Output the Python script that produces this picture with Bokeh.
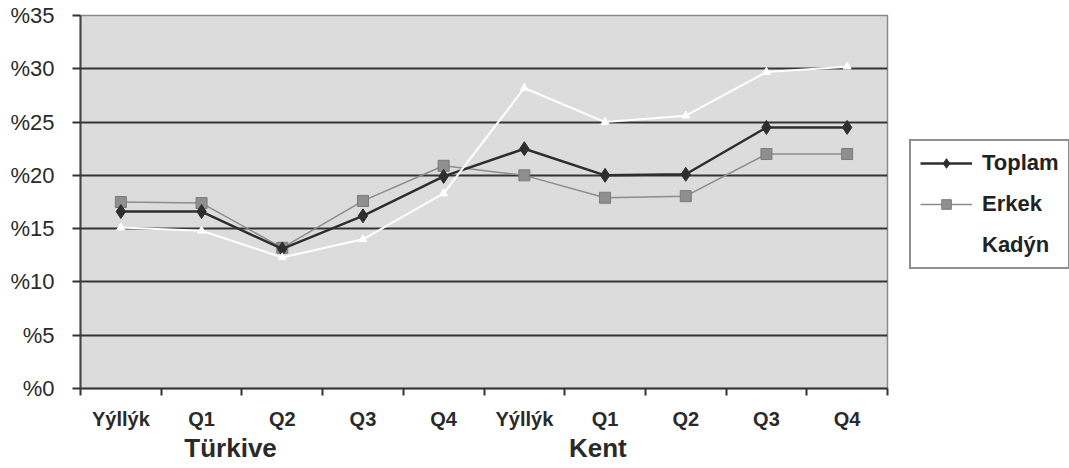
from bokeh.plotting import figure
from bokeh.models import Range1d, FixedTicker, Legend, LegendItem, LinearAxis
from bokeh.layouts import row
from bokeh.embed import file_html
from bokeh.resources import INLINE

# ---- data ----
categories = ["Yýllýk", "Q1", "Q2", "Q3", "Q4", "Yýllýk", "Q1", "Q2", "Q3", "Q4"]
groups = ["Türkive", "Kent"]
toplam = [16.6, 16.6, 13.1, 16.2, 19.9, 22.5, 20.0, 20.1, 24.5, 24.5]
erkek = [17.5, 17.4, 13.2, 17.6, 20.9, 20.0, 17.9, 18.05, 22.0, 22.0]
kadin = [15.1, 14.8, 12.3, 14.0, 18.3, 28.2, 25.0, 25.6, 29.7, 30.2]
y_ticks = [0, 5, 10, 15, 20, 25, 30, 35]
series_names = ["Toplam", "Erkek", "Kadýn"]

FONT = "Liberation Sans"
n = len(categories)
xs = [i + 0.5 for i in range(n)]

p = figure(width=900, height=468, output_backend="svg", toolbar_location=None,
           x_range=Range1d(0, n), y_range=Range1d(0, 35),
           min_border_left=80, min_border_right=13, min_border_top=15, min_border_bottom=80,
           background_fill_color="#dcdcdc", border_fill_color="white",
           outline_line_color="#8a8a8a", outline_line_width=1.5)

# axes
p.xaxis.ticker = FixedTicker(ticks=xs, minor_ticks=list(range(n + 1)))
p.xaxis.major_label_overrides = {x: c for x, c in zip(xs, categories)}
p.xaxis.major_tick_out = 0
p.xaxis.major_tick_in = 0
p.xaxis.minor_tick_out = 7
p.xaxis.minor_tick_in = 0
p.xaxis.minor_tick_line_color = "#333333"
p.xaxis.minor_tick_line_width = 2
p.xaxis.axis_line_color = "#333333"
p.xaxis.axis_line_width = 2
p.xaxis.major_label_text_font = FONT
p.xaxis.major_label_text_font_style = "bold"
p.xaxis.major_label_text_font_size = "20px"
p.xaxis.major_label_text_color = "#2a2a2a"
p.xaxis.major_label_standoff = 12

# group labels as a second category axis
group_x = [1.86, 6.41]
gaxis = LinearAxis(ticker=FixedTicker(ticks=group_x, minor_ticks=[]),
                   major_label_overrides={x: g for x, g in zip(group_x, groups)},
                   axis_line_color=None, major_tick_line_color=None, minor_tick_line_color=None,
                   major_tick_out=0, major_tick_in=0,
                   major_label_standoff=0, major_label_text_font=FONT,
                   major_label_text_font_style="bold", major_label_text_font_size="26px",
                   major_label_text_color="#2a2a2a")
p.add_layout(gaxis, "below")

p.yaxis.ticker = FixedTicker(ticks=y_ticks)
p.yaxis.major_label_overrides = {v: "%" + str(v) for v in y_ticks}
p.yaxis.major_tick_out = 8
p.yaxis.major_tick_in = 0
p.yaxis.minor_tick_out = 0
p.yaxis.minor_tick_in = 0
p.yaxis.major_tick_line_color = "#333333"
p.yaxis.major_tick_line_width = 2
p.yaxis.axis_line_color = "#444444"
p.yaxis.axis_line_width = 2
p.yaxis.major_label_text_font = FONT
p.yaxis.major_label_text_font_size = "22px"
p.yaxis.major_label_text_color = "#2a2a2a"
p.yaxis.major_label_standoff = 18

p.xgrid.grid_line_color = None
p.ygrid.grid_line_color = "#353535"
p.ygrid.grid_line_width = 2

# series styles
styles = {
    "Toplam": dict(line="#2e2e2e", lw=2.5, marker="diamond", size=14, fill="#2e2e2e", edge="#2e2e2e"),
    "Erkek": dict(line="#8c8c8c", lw=1.5, marker="square", size=11, fill="#8f8f8f", edge="#7a7a7a"),
    "Kadýn": dict(line="white", lw=2, marker="triangle", size=8, fill="white", edge="white"),
}
values = {"Toplam": toplam, "Erkek": erkek, "Kadýn": kadin}
for name in ["Erkek", "Toplam", "Kadýn"]:
    s = styles[name]
    p.line(xs, values[name], line_color=s["line"], line_width=s["lw"])
    p.scatter(xs, values[name], marker=s["marker"], size=s["size"],
              fill_color=s["fill"], line_color=s["edge"])

# legend figure (to the right of the chart); its series fall outside its ranges,
# so only the legend is visible
q = figure(width=169, height=468, output_backend="svg", toolbar_location=None,
           x_axis_location=None, y_axis_location=None,
           min_border_left=0, min_border_right=0, min_border_top=0, min_border_bottom=0,
           outline_line_color=None, background_fill_color="white", border_fill_color="white",
           x_range=Range1d(100, 101), y_range=Range1d(100, 101))
q.grid.visible = False
items = []
for name in series_names:
    s = styles[name]
    r1 = q.line(xs, values[name], line_color=s["line"], line_width=s["lw"])
    r2 = q.scatter(xs, values[name], marker=s["marker"], size=s["size"],
                   fill_color=s["fill"], line_color=s["edge"])
    items.append(LegendItem(label=name, renderers=[r1, r2]))

leg = Legend(items=items, location=(9, 119), orientation="vertical",
             border_line_color="#1e1e1e", border_line_width=2,
             background_fill_color="white", background_fill_alpha=1,
             padding=9, spacing=15, margin=0, glyph_height=24, glyph_width=52,
             label_height=24, label_standoff=10, label_text_font=FONT,
             label_text_font_size="22px", label_text_font_style="bold",
             label_text_color="#222222")
q.add_layout(leg)

layout = row(p, q, spacing=0)
open("out.html", "w").write(file_html(layout, INLINE))
